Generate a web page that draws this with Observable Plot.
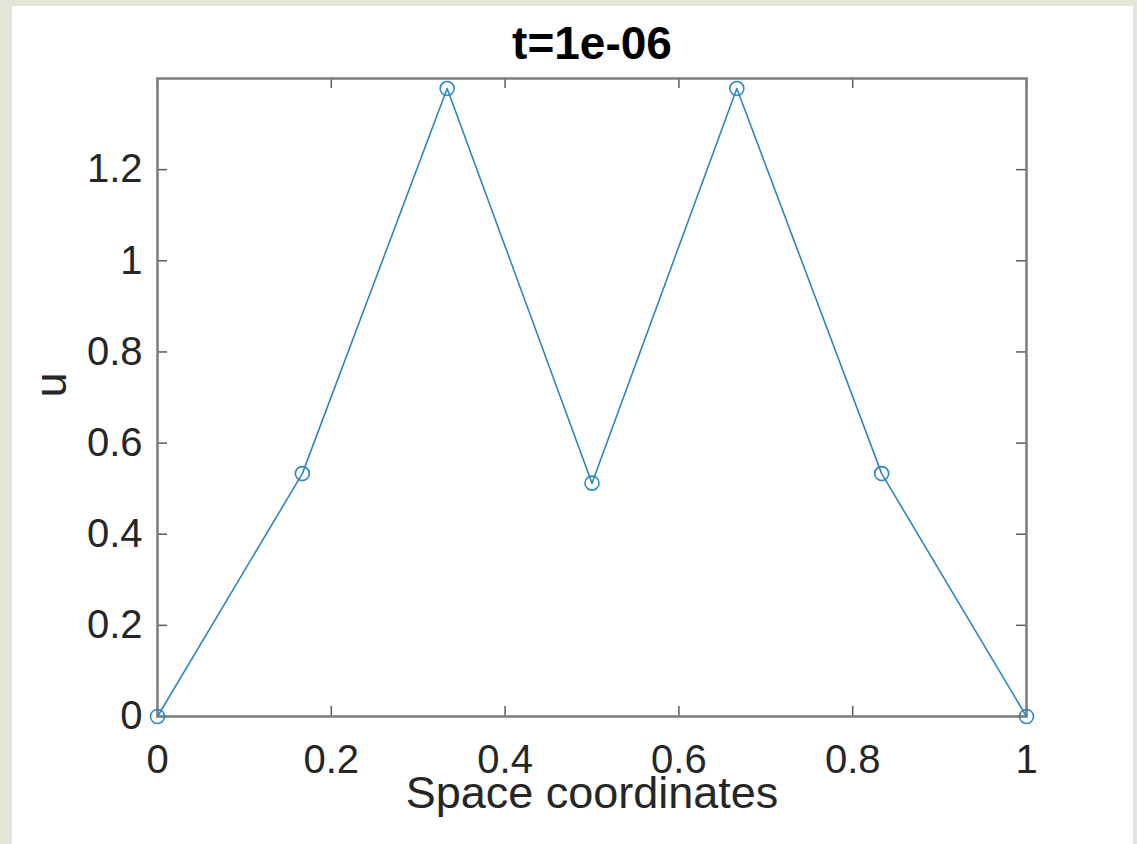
<!DOCTYPE html>
<html>
<head>
<meta charset="utf-8">
<script src="https://cdn.jsdelivr.net/npm/d3@7"></script>
<script src="https://cdn.jsdelivr.net/npm/@observablehq/plot@0.6"></script>
<style>
  html, body { margin: 0; padding: 0; background: #e4e4da; width: 1137px; height: 844px; overflow: hidden; }
  #panel { position: absolute; left: 12px; top: 6px; width: 1121px; height: 838px; background: #ffffff; }
  #panel svg { display: block; }
</style>
</head>
<body>
<div id="panel"></div>
<script>
// Data
const xs = [0, 1/6, 1/3, 1/2, 2/3, 5/6, 1];
const us = [0, 0.533, 1.378, 0.512, 1.378, 0.533, 0];
const xTicks = [0, 0.2, 0.4, 0.6, 0.8, 1];
const yTicks = [0, 0.2, 0.4, 0.6, 0.8, 1, 1.2];
const titleText = "t=1e-06";
const xLabel = "Space coordinates";
const yLabel = "u";

const data = xs.map((x, i) => ({x, u: us[i]}));

const W = 1121, H = 838;
const mL = 145, mR = 107, mT = 72, mB = 128;
const fw = W - mL - mR, fh = H - mT - mB;
const tickLen = 10;
const lineColor = "#2a86c2";
const axisColor = "#7d7d7d";
const textColor = "#262626";
const font = "'Liberation Sans', Arial, Helvetica, sans-serif";
const fmt = d => String(d);

const chart = Plot.plot({
  width: W,
  height: H,
  marginLeft: mL,
  marginRight: mR,
  marginTop: mT,
  marginBottom: mB,
  style: {fontFamily: font, background: "transparent", color: textColor, overflow: "visible"},
  x: {domain: [0, 1]},
  y: {domain: [0, 1.4]},
  marks: [
    Plot.axisX({ticks: xTicks, tickSize: 0, tickPadding: 28, fontSize: 40, tickFormat: fmt, fill: textColor, label: null}),
    Plot.axisY({ticks: yTicks, tickSize: 0, tickPadding: 15, fontSize: 40, tickFormat: fmt, fill: textColor, label: null}),
    Plot.tickX(xTicks, {x: d => d, insetTop: fh - tickLen, stroke: "#5a5a5a", strokeWidth: 1.5}),
    Plot.tickX(xTicks, {x: d => d, insetBottom: fh - tickLen, stroke: "#5a5a5a", strokeWidth: 1.5}),
    Plot.tickY(yTicks, {y: d => d, insetRight: fw - tickLen, stroke: "#5a5a5a", strokeWidth: 1.5}),
    Plot.tickY(yTicks, {y: d => d, insetLeft: fw - tickLen, stroke: "#5a5a5a", strokeWidth: 1.5}),
    Plot.frame({stroke: axisColor, strokeWidth: 2.5}),
    Plot.line(data, {x: "x", y: "u", stroke: lineColor, strokeWidth: 1.6}),
    Plot.dot(data, {x: "x", y: "u", r: 7, stroke: lineColor, strokeWidth: 1.6, fill: "none"}),
    Plot.text([titleText], {frameAnchor: "top", dy: -20, lineAnchor: "bottom", fontSize: 46, fontWeight: "bold", fill: "#000000"}),
    Plot.text([xLabel], {frameAnchor: "bottom", dy: 91, lineAnchor: "bottom", fontSize: 45, fill: textColor}),
    Plot.text([yLabel], {frameAnchor: "left", dx: -92, rotate: -90, lineAnchor: "bottom", fontSize: 45, fill: textColor})
  ]
});
document.getElementById("panel").appendChild(chart);
</script>
</body>
</html>
